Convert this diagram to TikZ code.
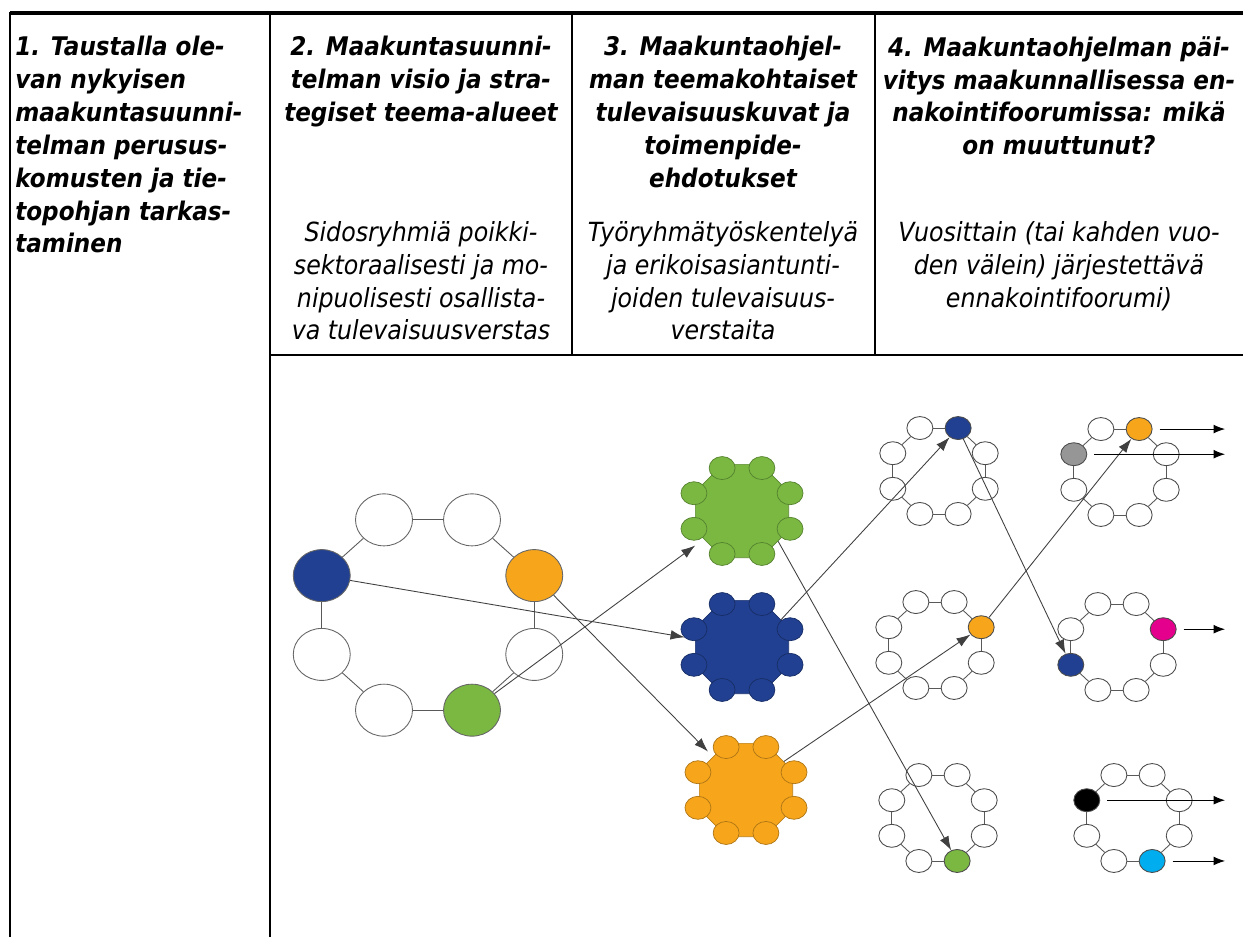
\documentclass[tikz,border=0pt]{standalone}
\usepackage{fontspec}
\newfontfamily\tabfont[FakeStretch=0.9]{DejaVu Sans}
\usetikzlibrary{shapes.geometric,arrows.meta}

\definecolor{navy}{RGB}{33,64,145}
\definecolor{orng}{RGB}{247,166,28}
\definecolor{leaf}{RGB}{122,184,66}
\definecolor{magn}{RGB}{228,0,140}
\definecolor{skyb}{RGB}{0,174,239}
\definecolor{greyd}{RGB}{150,150,150}

\tikzset{
  hdr/.style={font=\tabfont\bfseries\itshape\fontsize{14.6}{18.7}\selectfont, inner sep=0pt, anchor=north},
  txt/.style={font=\tabfont\itshape\fontsize{15}{18.7}\selectfont, inner sep=0pt, anchor=north},
  bigdot/.style={ellipse, draw=black!60, line width=0.5pt, minimum width=1.14cm, minimum height=1.04cm, inner sep=0pt},
  dot/.style={ellipse, draw=black!70, line width=0.5pt, minimum width=0.52cm, minimum height=0.46cm, inner sep=0pt},
  cogdot/.style={ellipse, line width=0.4pt, minimum width=0.52cm, minimum height=0.46cm, inner sep=0pt},
  cogbody/.style={regular polygon, regular polygon sides=8, line width=0.4pt, minimum size=2.02cm, inner sep=0pt},
  ringline/.style={draw=black!65, line width=0.5pt},
  arr/.style={draw=black!75, line width=0.5pt, -{Latex[length=8pt,width=5.5pt]}},
  outarr/.style={draw=black, line width=0.5pt, shorten <=4pt, -{Latex[length=6.5pt,width=5pt]}}
}

% ring of eight dots: name, cx, cy, rx, ry, style, colours
\newcommand{\dotring}[7]{%
  \foreach \c [count=\k] in {#7}
    \node[#6, fill=\c] (#1\k) at ({#2+#4*cos(157.5-45*\k)}, {#3-#5*sin(157.5-45*\k)}) {};
  \foreach \k/\j in {1/2,2/3,3/4,4/5,5/6,6/7,7/8,8/1}
    \draw[ringline] (#1\k) -- (#1\j);
}
% cog: name, cx, cy, colour
\newcommand{\cog}[4]{%
  \node[cogbody, fill=#4, draw=#4!75!black] (#1) at (#2,#3) {};
  \foreach \k in {1,...,8}
    \node[cogdot, fill=#4, draw=#4!70!black] (#1\k) at ({#2+52*cos(157.5-45*\k)}, {#3-46.5*sin(157.5-45*\k)}) {};
}

\begin{document}
\begin{tikzpicture}[x=0.02cm, y=-0.02cm]
  \useasboundingbox (0,0) rectangle (1243,937);

  % table
  \draw[line width=1.9pt] (10,13) -- (1243,13);
  \draw[line width=1.6pt] (10,12) -- (10,937);
  \draw[line width=1.1pt] (270,12) -- (270,937);
  \draw[line width=1.1pt] (572,12) -- (572,355);
  \draw[line width=1.1pt] (875,12) -- (875,355);
  \draw[line width=1.1pt] (270,355) -- (1243,355);

  \node[hdr, anchor=north west, align=left] (h1) at (15,36) {1. Taustalla ole-\\van nykyisen\\maakuntasuunni-\\telman perusus-\\komusten ja tie-\\topohjan tarkas-\\taminen};
  \node[hdr, align=center] (h2) at (421,36) {2. Maakuntasuunni-\\telman visio ja stra-\\tegiset teema-alueet};
  \node[hdr, align=center] (h3) at (723,36) {3. Maakuntaohjel-\\man teemakohtaiset\\tulevaisuuskuvat ja\\toimenpide-\\ehdotukset};
  \node[hdr, align=center] (h4) at (1059,36) {4. Maakuntaohjelman päi-\\vitys maakunnallisessa en-\\nakointifoorumissa: mikä\\on muuttunut?};
  \node[txt, align=center] (t2) at (421,221) {Sidosryhmiä poikki-\\sektoraalisesti ja mo-\\nipuolisesti osallista-\\va tulevaisuusverstas};
  \node[txt, align=center] (t3) at (723,221) {Työryhmätyöskentelyä\\ja erikoisasiantunti-\\joiden tulevaisuus-\\verstaita};
  \node[txt, align=center] (t4) at (1059,221) {Vuosittain (tai kahden vuo-\\den välein) järjestettävä\\ennakointifoorumi)};

  % rings
  \dotring{R}{428}{615}{115}{103}{bigdot}{white,white,orng,white,leaf,white,white,navy}
  \dotring{A}{939}{471}{50}{46.5}{dot}{white,navy,white,white,white,white,white,white}
  \dotring{B}{935}{645}{50}{46.5}{dot}{white,white,orng,white,white,white,white,white}
  \dotring{C}{938}{818}{50}{46.5}{dot}{white,white,white,white,leaf,white,white,white}
  \dotring{D}{1120}{472}{50}{46.5}{dot}{white,orng,white,white,white,white,white,greyd}
  \dotring{E}{1117}{647}{50}{46.5}{dot}{white,white,magn,white,white,white,navy,white}
  \dotring{F}{1133}{818}{50}{46.5}{dot}{white,white,white,white,skyb,white,white,black}

  % cogs
  \cog{gc}{742}{511}{leaf}
  \cog{bc}{742}{647}{navy}
  \cog{oc}{746}{790}{orng}

  % arrows
  \draw[arr, shorten >=6pt] (R8) -- (bc);
  \draw[arr, shorten >=6pt] (R5) -- (gc);
  \draw[arr, shorten >=4pt] (R3) -- (oc);
  \draw[arr] (gc.-40) -- (C5);
  \draw[arr] (bc.35) -- (A2);
  \draw[arr] (oc.37) -- (B3);
  \draw[arr] (A2) -- (E7);
  \draw[arr] (B3) -- (D2);

  \coordinate (xe) at (1225,0);
  \foreach \n in {D2,D8,E3,F8,F5}{
    \coordinate (o\n) at (\n -| xe);
    \draw[outarr] (\n) -- (o\n);
  }
\end{tikzpicture}
\end{document}
